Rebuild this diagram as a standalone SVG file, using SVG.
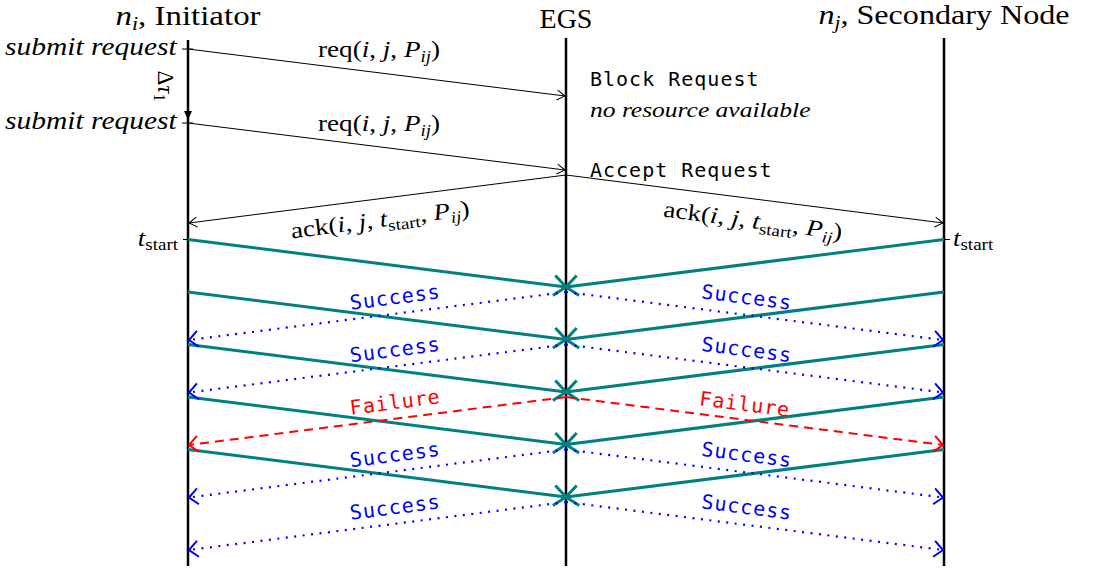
<svg xmlns="http://www.w3.org/2000/svg" width="1099" height="573" viewBox="0 0 1099 573">
<defs>
<style>
.serif{font-family:"Liberation Serif","Times New Roman",serif;fill:#000}
.it{font-style:italic}
.mono{font-family:"DejaVu Sans Mono","Liberation Mono",monospace;font-size:20px;letter-spacing:1px}
.life{stroke:#000;stroke-width:2.5;fill:none}
.msg{stroke:#000;stroke-width:1;fill:none}
.tick{stroke:#000;stroke-width:1}
.teal{stroke:#008080;stroke-width:3;fill:none}
.ok{stroke:#0000ff;stroke-width:2.2;fill:none;stroke-dasharray:2 6.5}
.bad{stroke:#ff0000;stroke-width:2;fill:none;stroke-dasharray:9 6}
</style>
<marker id="ah" viewBox="-10 -10 20 20" markerWidth="20" markerHeight="20" refX="0" refY="0" orient="auto" markerUnits="userSpaceOnUse" overflow="visible"><path d="M-8,-5 L0,0 L-8,5" fill="none" stroke="#000" stroke-width="1"/></marker>
<marker id="at" viewBox="-14 -14 28 28" markerWidth="28" markerHeight="28" refX="0" refY="0" orient="auto" markerUnits="userSpaceOnUse" overflow="visible"><path d="M-12,-10 L0,0 L-12,10" fill="none" stroke="#008080" stroke-width="3"/></marker>
<marker id="ab" viewBox="-12 -12 24 24" markerWidth="24" markerHeight="24" refX="0" refY="0" orient="auto" markerUnits="userSpaceOnUse" overflow="visible"><path d="M-9,-8 L0,0 L-9,8" fill="none" stroke="#0000ff" stroke-width="2"/></marker>
<marker id="ar" viewBox="-12 -12 24 24" markerWidth="24" markerHeight="24" refX="0" refY="0" orient="auto" markerUnits="userSpaceOnUse" overflow="visible"><path d="M-9,-8 L0,0 L-9,8" fill="none" stroke="#ff0000" stroke-width="2"/></marker>
</defs>

<g id="initiator">
<text class="serif" transform="translate(188,25) scale(1.22,1)" font-size="27" text-anchor="middle"><tspan class="it">n</tspan><tspan class="it" font-size="18" dy="5">i</tspan><tspan dy="-5">, Initiator</tspan></text>
<line class="life" x1="188" y1="40" x2="188" y2="566"/>
<line class="tick" x1="182" y1="49" x2="193" y2="49"/>
<line class="tick" x1="182" y1="123" x2="193" y2="123"/>
<line class="tick" x1="183" y1="239.5" x2="188" y2="239.5"/>
<text class="serif it" transform="translate(5,55) scale(1.18,1)" font-size="25">submit request</text>
<text class="serif it" transform="translate(5,129) scale(1.18,1)" font-size="25">submit request</text>
<text class="serif" transform="translate(178,246) scale(1.12,1)" font-size="24" text-anchor="end"><tspan class="it">t</tspan><tspan font-size="17" dy="4">start</tspan></text>
</g>

<g id="egs">
<text class="serif" x="566" y="28" font-size="28" text-anchor="middle">EGS</text>
<line class="life" x1="566" y1="38" x2="566" y2="566"/>
<text class="mono" x="590" y="86">Block Request</text>
<text class="serif it" transform="translate(590,117) scale(1.16,1)" font-size="22">no resource available</text>
<text class="mono" x="590" y="177">Accept Request</text>
</g>

<g id="secondary">
<text class="serif" transform="translate(944,24) scale(1.19,1)" font-size="27" text-anchor="middle"><tspan class="it">n</tspan><tspan class="it" font-size="18" dy="5">j</tspan><tspan dy="-5">, Secondary Node</tspan></text>
<line class="life" x1="944" y1="38" x2="944" y2="566"/>
<line class="tick" x1="944" y1="239.5" x2="950" y2="239.5"/>
<text class="serif" transform="translate(953,246) scale(1.12,1)" font-size="24"><tspan class="it">t</tspan><tspan font-size="17" dy="4">start</tspan></text>
</g>

<g id="connectors">
<!-- delta tau -->
<path d="M184,111 L192,111 L188,120 Z" fill="#000"/>
<text class="serif" transform="translate(158,86) rotate(90)" font-size="23" text-anchor="middle">Δ<tspan class="it">τ</tspan><tspan font-size="16" dy="4">1</tspan></text>

<!-- requests -->
<line class="msg" x1="188" y1="49" x2="565" y2="96" marker-end="url(#ah)"/>
<text class="serif" transform="translate(379,57) scale(1.18,1)" font-size="23" text-anchor="middle">req(<tspan class="it">i</tspan>, <tspan class="it">j</tspan>, <tspan class="it">P</tspan><tspan class="it" font-size="16" dy="5">ij</tspan><tspan dy="-5">)</tspan></text>
<line class="msg" x1="188" y1="123" x2="565" y2="170" marker-end="url(#ah)"/>
<text class="serif" transform="translate(379,131) scale(1.18,1)" font-size="23" text-anchor="middle">req(<tspan class="it">i</tspan>, <tspan class="it">j</tspan>, <tspan class="it">P</tspan><tspan class="it" font-size="16" dy="5">ij</tspan><tspan dy="-5">)</tspan></text>

<!-- acks -->
<line class="msg" x1="566" y1="175" x2="189" y2="223" marker-end="url(#ah)"/>
<line class="msg" x1="566" y1="175" x2="943" y2="223" marker-end="url(#ah)"/>
<text class="serif" transform="translate(381,227) rotate(-7.3) scale(1.19,1)" font-size="23" text-anchor="middle">ack(<tspan class="it">i</tspan>, <tspan class="it">j</tspan>, <tspan class="it">t</tspan><tspan font-size="16" dy="5">start</tspan><tspan dy="-5">, </tspan><tspan class="it">P</tspan><tspan class="it" font-size="16" dy="5">ij</tspan><tspan dy="-5">)</tspan></text>
<text class="serif" transform="translate(752,228) rotate(7.3) scale(1.19,1)" font-size="23" text-anchor="middle">ack(<tspan class="it">i</tspan>, <tspan class="it">j</tspan>, <tspan class="it">t</tspan><tspan font-size="16" dy="5">start</tspan><tspan dy="-5">, </tspan><tspan class="it">P</tspan><tspan class="it" font-size="16" dy="5">ij</tspan><tspan dy="-5">)</tspan></text>

<!-- teal rounds -->
<line class="teal" x1="188" y1="239.5" x2="566" y2="287" marker-end="url(#at)"/>
<line class="teal" x1="944" y1="239.5" x2="566" y2="287" marker-end="url(#at)"/>
<line class="teal" x1="188" y1="292" x2="566" y2="339.5" marker-end="url(#at)"/>
<line class="teal" x1="944" y1="292" x2="566" y2="339.5" marker-end="url(#at)"/>
<line class="teal" x1="188" y1="344.5" x2="566" y2="392" marker-end="url(#at)"/>
<line class="teal" x1="944" y1="344.5" x2="566" y2="392" marker-end="url(#at)"/>
<line class="teal" x1="188" y1="397" x2="566" y2="444.5" marker-end="url(#at)"/>
<line class="teal" x1="944" y1="397" x2="566" y2="444.5" marker-end="url(#at)"/>
<line class="teal" x1="188" y1="449.5" x2="566" y2="497" marker-end="url(#at)"/>
<line class="teal" x1="944" y1="449.5" x2="566" y2="497" marker-end="url(#at)"/>

<!-- responses -->
<line class="ok" x1="566" y1="292" x2="189" y2="340" marker-end="url(#ab)"/>
<line class="ok" x1="566" y1="292" x2="943" y2="340" marker-end="url(#ab)"/>
<line class="ok" x1="566" y1="344.5" x2="189" y2="392.5" marker-end="url(#ab)"/>
<line class="ok" x1="566" y1="344.5" x2="943" y2="392.5" marker-end="url(#ab)"/>
<line class="bad" x1="566" y1="397" x2="189" y2="445" marker-end="url(#ar)"/>
<line class="bad" x1="566" y1="397" x2="943" y2="445" marker-end="url(#ar)"/>
<line class="ok" x1="566" y1="449.5" x2="189" y2="497.5" marker-end="url(#ab)"/>
<line class="ok" x1="566" y1="449.5" x2="943" y2="497.5" marker-end="url(#ab)"/>
<line class="ok" x1="566" y1="502" x2="189" y2="550" marker-end="url(#ab)"/>
<line class="ok" x1="566" y1="502" x2="943" y2="550" marker-end="url(#ab)"/>

<g class="mono" fill="#0000ff" text-anchor="middle">
<text transform="translate(396,304) rotate(-7.3)">Success</text>
<text transform="translate(746,304) rotate(7.3)">Success</text>
<text transform="translate(396,356.5) rotate(-7.3)">Success</text>
<text transform="translate(746,356.5) rotate(7.3)">Success</text>
<text transform="translate(396,461.5) rotate(-7.3)">Success</text>
<text transform="translate(746,461.5) rotate(7.3)">Success</text>
<text transform="translate(396,514) rotate(-7.3)">Success</text>
<text transform="translate(746,514) rotate(7.3)">Success</text>
</g>
<g class="mono" fill="#ff0000" text-anchor="middle">
<text transform="translate(396,409) rotate(-7.3)">Failure</text>
<text transform="translate(744,411) rotate(7.3)">Failure</text>
</g>
</g>
</svg>
